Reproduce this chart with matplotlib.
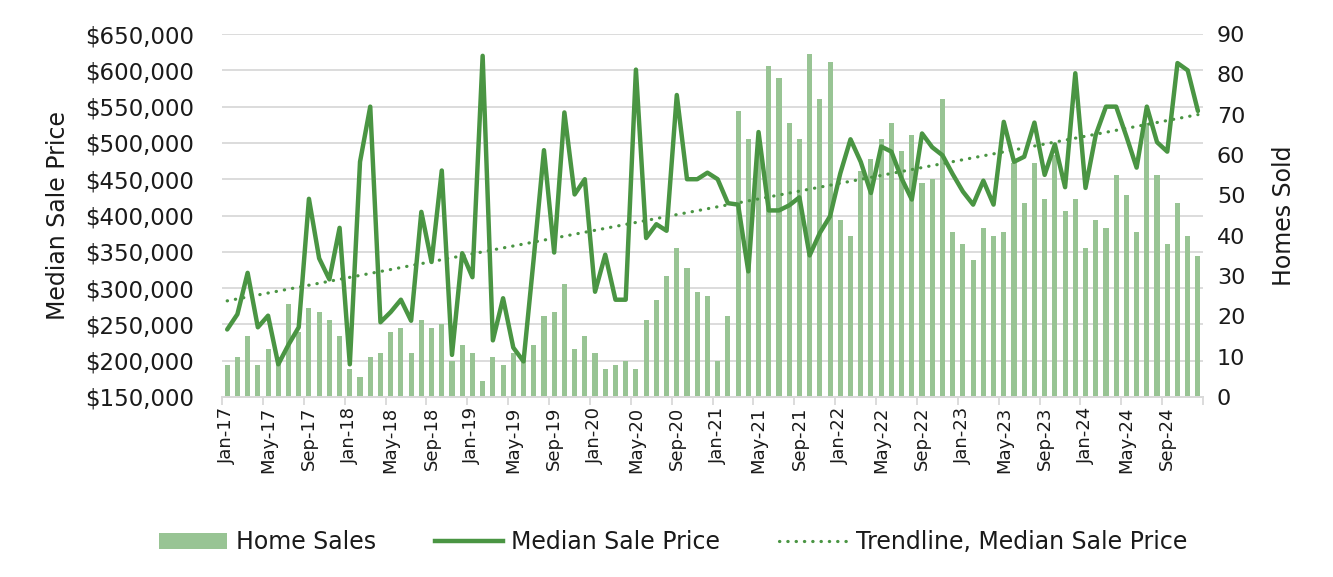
import numpy as np
import pandas as pd
import matplotlib
matplotlib.use('Agg')
import matplotlib.pyplot as plt
from matplotlib.ticker import FuncFormatter, FixedLocator
from matplotlib.lines import Line2D
from matplotlib.patches import Patch

# monthly data, Jan-17 .. Dec-24
months = pd.date_range('2017-01-01', periods=96, freq='MS').strftime('%b-%y').tolist()

homes_sold = [8, 10, 15, 8, 12, 10, 23, 16, 22, 21, 19, 15,
              7, 5, 10, 11, 16, 17, 11, 19, 17, 18, 9, 13,
              11, 4, 10, 8, 11, 10, 13, 20, 21, 28, 12, 15,
              11, 7, 8, 9, 7, 19, 24, 30, 37, 32, 26, 25,
              9, 20, 71, 64, 62, 82, 79, 68, 64, 85, 74, 83,
              44, 40, 56, 59, 64, 68, 61, 65, 53, 54, 74, 41,
              38, 34, 42, 40, 41, 58, 48, 58, 49, 60, 46, 49,
              37, 44, 42, 55, 50, 41, 68, 55, 38, 48, 40, 35]

median_price = [243, 264, 321, 246, 262, 195, 222, 246, 423, 341, 312, 383,
                195, 474, 550, 253, 267, 284, 255, 405, 336, 462, 208, 348,
                315, 620, 228, 286, 218, 199, 341, 490, 349, 542, 429, 450,
                295, 346, 284, 284, 601, 369, 388, 379, 566, 450, 450, 459,
                450, 417, 415, 323, 515, 407, 407, 414, 425, 345, 376, 399,
                458, 505, 474, 431, 495, 488, 451, 422, 513, 494, 483, 457,
                433, 415, 448, 415, 529, 474, 481, 528, 456, 498, 439, 596,
                438, 511, 550, 550, 509, 466, 550, 501, 488, 610, 600, 544]
median_price = np.array(median_price) * 1000

x = np.arange(len(months))
coef = np.polyfit(x, median_price, 1)
trend = np.poly1d(coef)(x)

line_green = '#4a9543'
bar_green = '#98c494'
grid_gray = '#d9d9d9'
text_color = '#1a1a1a'

plt.rcParams['font.family'] = ['DejaVu Sans']
plt.rcParams['text.color'] = text_color
plt.rcParams['axes.labelcolor'] = text_color
plt.rcParams['xtick.color'] = text_color
plt.rcParams['ytick.color'] = text_color

fig = plt.figure(figsize=(13.33, 5.77), dpi=100)
ax = fig.add_axes([0.1666, 0.312, 0.7359, 0.629])
ax2 = ax.twinx()
ax3 = ax.twinx()

# left axis: price, with gridlines
ax.set_ylim(150000, 650000)
ax.set_yticks(np.arange(150000, 650001, 50000))
ax.yaxis.set_major_formatter(FuncFormatter(lambda v, p: '${:,.0f}'.format(v)))
ax.grid(axis='y', color=grid_gray, linewidth=1.3)
ax.set_axisbelow(True)
ax.set_ylabel('Median Sale Price', fontsize=17)
ax.yaxis.set_label_coords(-0.155, 0.5)

# right axis: homes sold (bars)
ax2.bar(x, homes_sold, width=0.5, color=bar_green, zorder=2)
ax2.set_ylim(0, 90)
ax2.set_yticks(np.arange(0, 91, 10))
ax2.set_ylabel('Homes Sold', fontsize=17)
ax2.yaxis.set_label_coords(1.070, 0.5)

# price line on top
ax3.plot(x, median_price, color=line_green, linewidth=3.2,
         solid_joinstyle='round', solid_capstyle='round', zorder=3)
ax3.plot(x, trend, color=line_green, linewidth=2.3,
         linestyle=(0, (0.1, 2.5)), dash_capstyle='round')
ax3.set_ylim(ax.get_ylim())
ax3.set_yticks([])

for a in (ax, ax2, ax3):
    a.set_xlim(-0.5, len(months) - 0.5)
    for s in ('top', 'left', 'right'):
        a.spines[s].set_visible(False)
    a.spines['bottom'].set_color(grid_gray)
    a.spines['bottom'].set_linewidth(1.3)

ax.tick_params(axis='y', length=0, labelsize=16.5, pad=20)
ax2.tick_params(axis='y', length=0, labelsize=16, pad=10)

# tick marks at category boundaries, labels every 4 months
ax.xaxis.set_major_locator(FixedLocator(np.arange(-0.5, len(months), 4)))
ax.xaxis.set_minor_locator(FixedLocator(x[::4]))
ax.xaxis.set_major_formatter(FuncFormatter(lambda v, p: ''))
ax.xaxis.set_minor_formatter(FuncFormatter(lambda v, p: months[int(round(v))]))
ax.tick_params(axis='x', which='major', length=6, color=grid_gray, width=1.3)
ax.tick_params(axis='x', which='minor', length=0, labelsize=13, rotation=90, pad=7)
ax2.tick_params(axis='x', which='both', bottom=False, labelbottom=False)
ax3.tick_params(axis='x', which='both', bottom=False, labelbottom=False)

handles = [Patch(facecolor=bar_green, edgecolor='none'),
           Line2D([], [], color=line_green, linewidth=3.2),
           Line2D([], [], color=line_green, linewidth=2.3,
                  linestyle=(0, (0.1, 2.5)), dash_capstyle='round')]
labels = ['Home Sales', 'Median Sale Price', 'Trendline, Median Sale Price']
fig.legend(handles, labels, loc='center', bbox_to_anchor=(0.505, 0.06),
           ncol=3, frameon=False, fontsize=17, handlelength=2.9,
           columnspacing=2.5, handletextpad=0.35)

fig.savefig('out.png', dpi=100)
